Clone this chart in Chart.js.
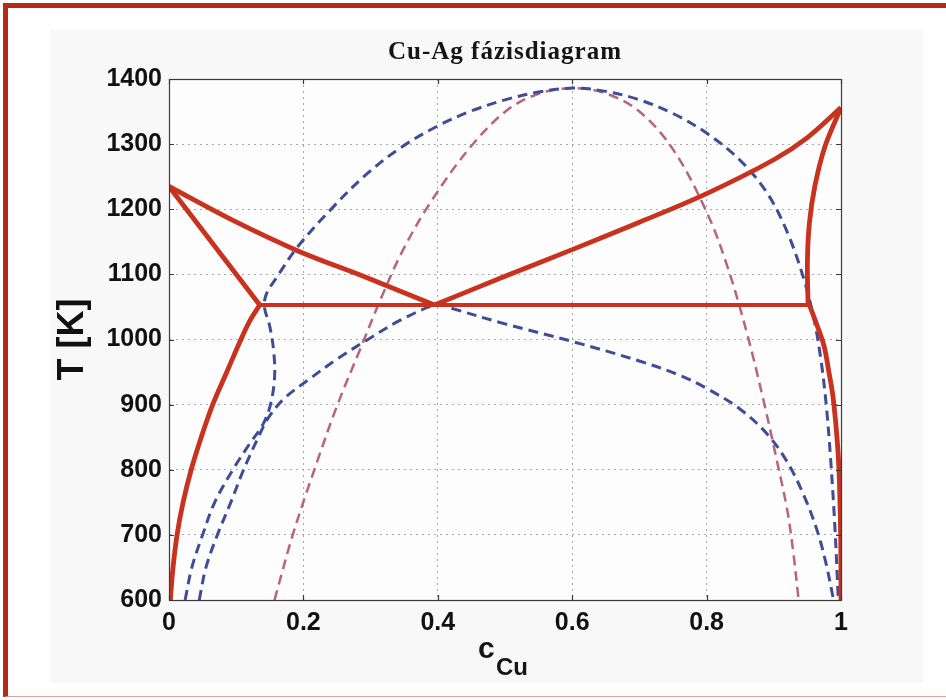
<!DOCTYPE html>
<html>
<head>
<meta charset="utf-8">
<script src="https://cdn.jsdelivr.net/npm/chart.js@4.4.0/dist/chart.umd.min.js"></script>
<style>
  html, body { margin: 0; padding: 0; background: #fff; }
  #frame { position: absolute; left: 3px; top: 3px; width: 943px; height: 694px; box-sizing: border-box;
           border-left: 5px solid #b32a16; border-top: 5px solid #b32a16; border-bottom: 1px solid #e3a39a; }
  #figbg { position: absolute; left: 50px; top: 30px; width: 873px; height: 653px; background: #f8f8f8; }
  #wrap { position: absolute; left: 0; top: 0; width: 946px; height: 700px; }
</style>
</head>
<body>
<div id="frame"></div>
<div id="figbg"></div>
<div id="wrap"><canvas id="chartPhase" width="946" height="700"></canvas></div>
<script>
const chartTitle = 'Cu-Ag fázisdiagram'
const xTickLabels = ['0', '0.2', '0.4', '0.6', '0.8', '1']
const yTickLabels = ['600', '700', '800', '900', '1000', '1100', '1200', '1300', '1400']

// red solid: equilibrium phase boundaries (c_Cu, T in K)
const liquidusAgC = [0, 0.093, 0.192, 0.292, 0.395]
const liquidusAgT = [1235, 1184, 1136, 1096, 1053]
const solidusAgC = [0, 0.135]
const solidusAgT = [1235, 1053]
const solvusAgC = [0.135, 0.121, 0.107, 0.086, 0.065, 0.048, 0.033, 0.021, 0.012, 0.006, 0.002]
const solvusAgT = [1053, 1030, 1000, 950, 900, 850, 800, 750, 700, 650, 600]
const eutecticC = [0.135, 0.953]
const eutecticT = [1053, 1053]
const liquidusCuC = [0.395, 0.5, 0.6, 0.7, 0.8, 0.9, 0.95, 1.0]
const liquidusCuT = [1053, 1097, 1138, 1180, 1224, 1276, 1310, 1356]
const solidusCuC = [1.0, 0.976, 0.961, 0.953, 0.950, 0.951]
const solidusCuT = [1356, 1296, 1235, 1179, 1120, 1053]
const solvusCuC = [0.953, 0.965, 0.975, 0.982, 0.988, 0.994, 0.997, 0.9995, 1.0]
const solvusCuT = [1053, 1020, 989, 950, 913, 850, 800, 700, 600]

// blue dashed: outer dome
const domeC = [0.024, 0.034, 0.050, 0.068, 0.095, 0.120, 0.140, 0.151, 0.157, 0.156, 0.150, 0.142, 0.145, 0.160,
  0.192, 0.242, 0.292, 0.344, 0.40, 0.45, 0.50, 0.55, 0.602, 0.65, 0.70, 0.75, 0.80, 0.85, 0.89, 0.92,
  0.945, 0.96, 0.97, 0.978, 0.985, 0.991, 0.996]
const domeT = [600, 650, 700, 750, 800, 840, 870, 900, 940, 980, 1020, 1050, 1070, 1095,
  1143, 1201, 1252, 1294, 1328, 1351, 1368, 1380, 1386, 1381, 1368, 1347, 1317, 1275, 1225, 1165,
  1092, 1030, 970, 900, 810, 710, 600]

// blue dashed: lower curve through the eutectic
const metaC = [0.045, 0.055, 0.072, 0.092, 0.111, 0.133, 0.148, 0.172, 0.210, 0.250, 0.296, 0.345, 0.40,
  0.42, 0.5, 0.6, 0.7, 0.76, 0.8, 0.85, 0.89, 0.92, 0.945, 0.965, 0.978, 0.987, 0.989]
const metaT = [600, 650, 700, 750, 800, 850, 880, 910, 940, 970, 1000, 1030, 1054,
  1048, 1024, 997, 967, 945, 925, 893, 855, 812, 760, 705, 655, 610, 600]

// pink dashed
const pinkC = [0.157, 0.185, 0.22, 0.25, 0.284, 0.315, 0.347, 0.39, 0.449, 0.503, 0.552, 0.602,
  0.65, 0.70, 0.75, 0.80, 0.83, 0.86, 0.885, 0.905, 0.92, 0.929, 0.937]
const pinkT = [600, 703, 811, 898, 984, 1062, 1135, 1212, 1296, 1352, 1378, 1386,
  1378, 1350, 1292, 1196, 1115, 1010, 905, 812, 738, 673, 600]

const RED = '#c8321e'
const BLUE = '#3f4c98'
const PINK = '#b8637f'

function pts(cs, ts) {
  const out = []
  for (var i = 0; i < cs.length; i++) out.push({x: cs[i], y: ts[i]})
  return out
}

function solid(cs, ts, width) {
  return {data: pts(cs, ts), borderColor: RED, borderWidth: width || 4.8, tension: 0.35}
}

function dashed(cs, ts, color, width) {
  return {data: pts(cs, ts), borderColor: color, borderWidth: width, borderDash: [10, 6], tension: 0.35}
}

const tickFont = {family: '"Liberation Sans", Arial, sans-serif', weight: 'bold', size: 25}

const decorations = {
  id: 'decorations',
  beforeDraw(chart) {
    const {ctx, chartArea: a} = chart
    ctx.save()
    ctx.fillStyle = '#fdfdfd'
    ctx.fillRect(a.left, a.top, a.right - a.left, a.bottom - a.top)
    ctx.restore()
  },
  afterDraw(chart) {
    const {ctx, chartArea: a, scales} = chart
    ctx.save()
    ctx.strokeStyle = '#3a3a3a'
    ctx.lineWidth = 1.2
    ctx.strokeRect(a.left + 0.5, a.top + 0.5, a.right - a.left, a.bottom - a.top)
    // inward tick marks, matlab style
    ctx.beginPath()
    scales.x.ticks.forEach(t => {
      const px = Math.round(scales.x.getPixelForValue(t.value)) + 0.5
      ctx.moveTo(px, a.bottom); ctx.lineTo(px, a.bottom - 5)
      ctx.moveTo(px, a.top); ctx.lineTo(px, a.top + 5)
    })
    scales.y.ticks.forEach(t => {
      const py = Math.round(scales.y.getPixelForValue(t.value)) + 0.5
      ctx.moveTo(a.left, py); ctx.lineTo(a.left + 5, py)
      ctx.moveTo(a.right, py); ctx.lineTo(a.right - 5, py)
    })
    ctx.stroke()

    const cx = (a.left + a.right) / 2
    ctx.fillStyle = '#151515'
    ctx.textBaseline = 'alphabetic'
    ctx.textAlign = 'center'
    ctx.font = 'bold 25px "Liberation Serif", "Times New Roman", serif'
    ctx.letterSpacing = '1px'
    ctx.fillText(chartTitle, cx, a.top - 20)
    ctx.letterSpacing = '0px'

    // c with subscript Cu
    ctx.textAlign = 'left'
    ctx.font = 'bold 30px "Liberation Sans", Arial, sans-serif'
    ctx.fillText('c', cx - 27, a.bottom + 58)
    ctx.font = 'bold 24px "Liberation Sans", Arial, sans-serif'
    ctx.fillText('Cu', cx - 9, a.bottom + 75)
    ctx.restore()
  }
}

new Chart(document.getElementById('chartPhase'), {
  type: 'scatter',
  data: {
    datasets: [
      solid(liquidusAgC, liquidusAgT),
      solid(solidusAgC, solidusAgT),
      solid(solvusAgC, solvusAgT),
      solid(eutecticC, eutecticT, 4),
      solid(liquidusCuC, liquidusCuT),
      solid(solidusCuC, solidusCuT),
      solid(solvusCuC, solvusCuT),
      dashed(domeC, domeT, BLUE, 3),
      dashed(metaC, metaT, BLUE, 3),
      dashed(pinkC, pinkT, PINK, 2.5)
    ]
  },
  options: {
    responsive: false,
    animation: false,
    showLine: true,
    elements: {point: {radius: 0}},
    layout: {padding: {top: 79, right: 105, left: 0, bottom: 0}},
    plugins: {legend: {display: false}, tooltip: {enabled: false}},
    scales: {
      x: {
        type: 'linear', min: 0, max: 1,
        afterFit: s => { s.height = 100 },
        grid: {color: '#a9a9a9', lineWidth: 1, drawTicks: false},
        border: {display: true, color: '#3a3a3a', dash: [2, 4]},
        ticks: {stepSize: 0.2, padding: 8, color: '#111', font: tickFont, maxRotation: 0,
          callback: (v, i) => xTickLabels[i]}
      },
      y: {
        min: 600, max: 1400,
        afterFit: s => { s.width = 169 },
        grid: {color: '#a9a9a9', lineWidth: 1, drawTicks: false},
        border: {display: true, color: '#3a3a3a', dash: [2, 4]},
        ticks: {stepSize: 100, padding: 7, color: '#111', font: tickFont,
          callback: (v, i) => yTickLabels[i]},
        title: {display: true, text: 'T [K]', color: '#111', padding: {top: 51, bottom: 0},
          font: {family: '"Liberation Sans", Arial, sans-serif', weight: 'bold', size: 36}}
      }
    }
  },
  plugins: [decorations]
})
</script>
</body>
</html>
